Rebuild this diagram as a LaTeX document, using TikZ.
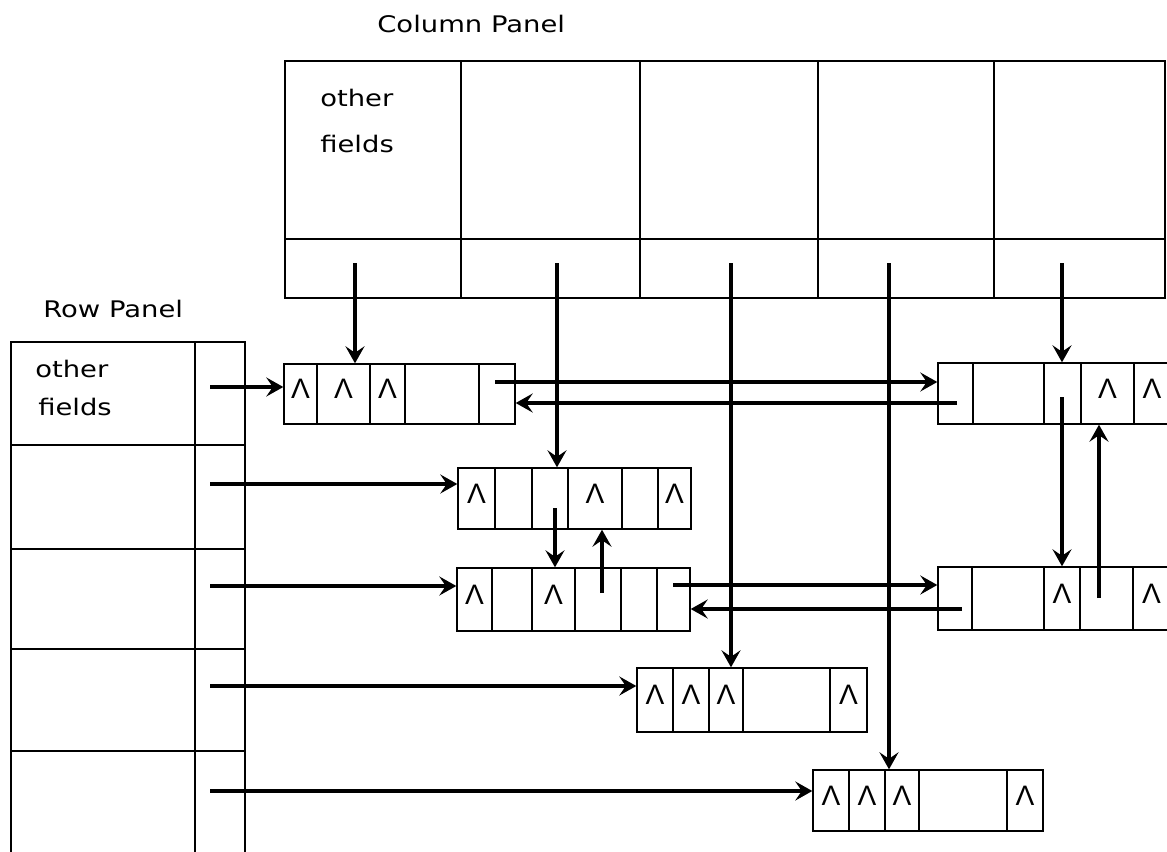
\documentclass[tikz,border=0pt]{standalone}
\usepackage{fontspec}
\newfontfamily\panelfont[FakeStretch=1.2]{DejaVu Sans}
\newfontfamily\nilfont{Liberation Sans}
\usetikzlibrary{arrows.meta, fit}
\newcommand\nilmark{\raisebox{-0.5\height}{Λ}}
\tikzset{
  cell/.style={draw, rectangle, inner sep=0pt, line width=0.8pt, font=\nilfont\fontsize{16pt}{18pt}\selectfont},
  ptr/.style={line width=2.3pt, -{Stealth[length=3.4mm, width=3.8mm, inset=1.3mm]}},
  title/.style={font=\panelfont\fontsize{13pt}{15pt}\selectfont, anchor=base west, inner sep=0pt}
}

\begin{document}
\begin{tikzpicture}[x=0.02cm, y=-0.02cm]
  \useasboundingbox (0,0) rectangle (1167,852);
  \clip (0,0) rectangle (1167,852);

  % Column panel
  \node[title] (colname) at (377,32) {Column Panel};
  \node[cell, fit={(285,61) (461,239)}] (cp1) {};
  \node[cell, fit={(461,61) (640,239)}] (cp2) {};
  \node[cell, fit={(640,61) (818,239)}] (cp3) {};
  \node[cell, fit={(818,61) (994,239)}] (cp4) {};
  \node[cell, fit={(994,61) (1165,239)}] (cp5) {};
  \node[cell, fit={(285,239) (461,298)}] (cq1) {};
  \node[cell, fit={(461,239) (640,298)}] (cq2) {};
  \node[cell, fit={(640,239) (818,298)}] (cq3) {};
  \node[cell, fit={(818,239) (994,298)}] (cq4) {};
  \node[cell, fit={(994,239) (1165,298)}] (cq5) {};
  \node[title] (cpo) at (320,106) {other};
  \node[title] (cpf) at (320,152) {fields};

  % Row panel
  \node[title] (rowname) at (43,317) {Row Panel};
  \node[cell, fit={(11,342) (195,445)}] (rp1) {};
  \node[cell, fit={(11,445) (195,549)}] (rp2) {};
  \node[cell, fit={(11,549) (195,649)}] (rp3) {};
  \node[cell, fit={(11,649) (195,751)}] (rp4) {};
  \node[cell, fit={(11,751) (195,880)}] (rp5) {};
  \node[cell, fit={(195,342) (245,445)}] (rq1) {};
  \node[cell, fit={(195,445) (245,549)}] (rq2) {};
  \node[cell, fit={(195,549) (245,649)}] (rq3) {};
  \node[cell, fit={(195,649) (245,751)}] (rq4) {};
  \node[cell, fit={(195,751) (245,880)}] (rq5) {};
  \node[title] (rpo) at (35,377) {other};
  \node[title] (rpf) at (38,415) {fields};

  % Element records, row 1
  \node[cell, fit={(284,364) (317,424)}] (n1a) {\nilmark};
  \node[cell, fit={(317,364) (370,424)}] (n1b) {\nilmark};
  \node[cell, fit={(370,364) (405,424)}] (n1c) {\nilmark};
  \node[cell, fit={(405,364) (479,424)}] (n1d) {};
  \node[cell, fit={(479,364) (515,424)}] (n1e) {};
  \node[cell, fit={(938,363) (973,424)}] (m1a) {};
  \node[cell, fit={(973,363) (1044,424)}] (m1b) {};
  \node[cell, fit={(1044,363) (1081,424)}] (m1c) {};
  \node[cell, fit={(1081,363) (1134,424)}] (m1d) {\nilmark};
  \node[cell, fit={(1134,363) (1170,424)}] (m1e) {\nilmark};
  % row 2
  \node[cell, fit={(458,468) (495,529)}] (n2a) {\nilmark};
  \node[cell, fit={(495,468) (532,529)}] (n2b) {};
  \node[cell, fit={(532,468) (568,529)}] (n2c) {};
  \node[cell, fit={(568,468) (622,529)}] (n2d) {\nilmark};
  \node[cell, fit={(622,468) (658,529)}] (n2e) {};
  \node[cell, fit={(658,468) (691,529)}] (n2f) {\nilmark};
  % row 3
  \node[cell, fit={(457,568) (492,631)}] (n3a) {\nilmark};
  \node[cell, fit={(492,568) (532,631)}] (n3b) {};
  \node[cell, fit={(532,568) (575,631)}] (n3c) {\nilmark};
  \node[cell, fit={(575,568) (621,631)}] (n3d) {};
  \node[cell, fit={(621,568) (657,631)}] (n3e) {};
  \node[cell, fit={(657,568) (690,631)}] (n3f) {};
  \node[cell, fit={(938,567) (972,630)}] (m3a) {};
  \node[cell, fit={(972,567) (1044,630)}] (m3b) {};
  \node[cell, fit={(1044,567) (1080,630)}] (m3c) {\nilmark};
  \node[cell, fit={(1080,567) (1133,630)}] (m3d) {};
  \node[cell, fit={(1133,567) (1170,630)}] (m3e) {\nilmark};
  % row 4
  \node[cell, fit={(637,668) (673,732)}] (n4a) {\nilmark};
  \node[cell, fit={(673,668) (709,732)}] (n4b) {\nilmark};
  \node[cell, fit={(709,668) (743,732)}] (n4c) {\nilmark};
  \node[cell, fit={(743,668) (830,732)}] (n4d) {};
  \node[cell, fit={(830,668) (867,732)}] (n4e) {\nilmark};
  % row 5
  \node[cell, fit={(813,770) (849,831)}] (n5a) {\nilmark};
  \node[cell, fit={(849,770) (885,831)}] (n5b) {\nilmark};
  \node[cell, fit={(885,770) (919,831)}] (n5c) {\nilmark};
  \node[cell, fit={(919,770) (1007,831)}] (n5d) {};
  \node[cell, fit={(1007,770) (1043,831)}] (n5e) {\nilmark};

  % Column heads
  \coordinate (cs1) at (355,263);
  \coordinate (cs2) at (557,263);
  \coordinate (cs3) at (731,263);
  \coordinate (cs4) at (889,263);
  \coordinate (cs5) at (1062,263);
  \draw[ptr] (cs1) -- (cs1 |- n1b.north);
  \draw[ptr] (cs2) -- (cs2 |- n2c.north);
  \draw[ptr] (cs3) -- (cs3 |- n4c.north);
  \draw[ptr] (cs4) -- (cs4 |- n5c.north);
  \draw[ptr] (cs5) -- (cs5 |- m1c.north);

  % Row heads
  \coordinate (rs1) at (210,387);
  \coordinate (rs2) at (210,484);
  \coordinate (rs3) at (210,586);
  \coordinate (rs4) at (210,686);
  \coordinate (rs5) at (210,791);
  \draw[ptr] (rs1) -- (rs1 -| n1a.west);
  \draw[ptr] (rs2) -- (rs2 -| n2a.west);
  \draw[ptr] (rs3) -- (rs3 -| n3a.west);
  \draw[ptr] (rs4) -- (rs4 -| n4a.west);
  \draw[ptr] (rs5) -- (rs5 -| n5a.west);

  % Links between elements
  \coordinate (p1) at (495,382);
  \coordinate (q1) at (957,403);
  \coordinate (p3) at (673,585);
  \coordinate (q3) at (962,609);
  \draw[ptr] (p1) -- (p1 -| m1a.west);
  \draw[ptr] (q1) -- (q1 -| n1e.east);
  \draw[ptr] (p3) -- (p3 -| m3a.west);
  \draw[ptr] (q3) -- (q3 -| n3f.east);
  \coordinate (d2) at (555,508);
  \coordinate (u3) at (602,593);
  \coordinate (dm) at (1062,397);
  \coordinate (um) at (1099,598);
  \draw[ptr] (d2) -- (d2 |- n3c.north);
  \draw[ptr] (u3) -- (u3 |- n2d.south);
  \draw[ptr] (dm) -- (dm |- m3c.north);
  \draw[ptr] (um) -- (um |- m1d.south);
\end{tikzpicture}
\end{document}
